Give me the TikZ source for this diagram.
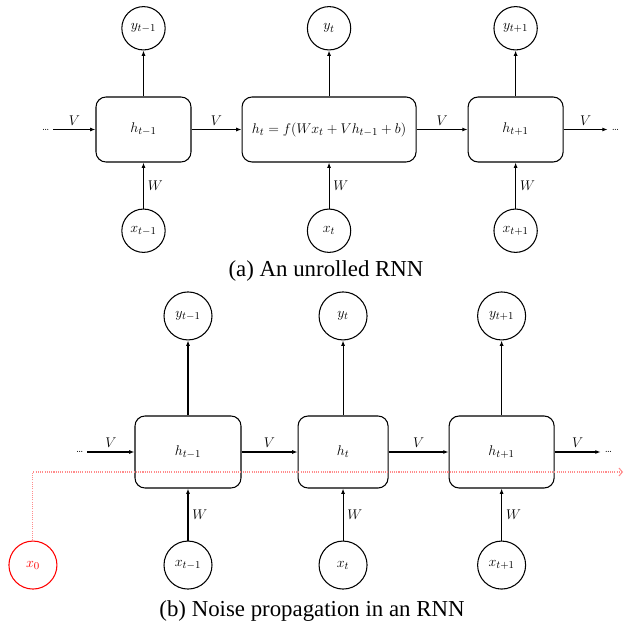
\documentclass[tikz,border=0pt]{standalone}
\usepackage{fontspec}
\usepackage{tikz}
\newfontfamily\capfont{Liberation Serif}
\usetikzlibrary{arrows.meta, positioning}
\tikzstyle{cell} = [draw, rectangle, rounded corners=3mm, line width=0.9pt]
\tikzstyle{unit} = [draw, circle, line width=0.9pt, inner sep=0pt]
\tikzstyle{dots} = [font=\fontsize{9}{10}\selectfont]
\tikzstyle{weight} = [font=\fontsize{12}{14}\selectfont]
\tikzstyle{link} = [-{Latex[length=1.6mm, width=1.2mm]}, line width=0.9pt]
\tikzstyle{noise} = [densely dotted, red!45, line width=0.9pt, -{Straight Barb[length=1mm, width=2.4mm]}]
\tikzstyle{caption} = [font=\capfont\fontsize{19.5}{22}\selectfont, anchor=base]

\begin{document}
\begin{tikzpicture}[x=0.3mm, y=-0.3mm, font=\fontsize{12.5}{15}\selectfont]
    \useasboundingbox (0,0) rectangle (625,631);

    % (a) An unrolled RNN.
    \node (ha1) [cell, minimum width=28.5mm, minimum height=19.5mm] at (143.5,129.5) {$h_{t-1}$};
    \node (ha2) [cell, minimum width=52.2mm, minimum height=19.5mm, right=15mm of ha1] {$h_t = f(Wx_t + Vh_{t-1} + b)$};
    \node (ha3) [cell, minimum width=28.5mm, minimum height=19.5mm, right=15.3mm of ha2] {$h_{t+1}$};
    \node (ya1) [unit, minimum size=13mm, above=13.8mm of ha1] {$y_{t-1}$};
    \node (ya2) [unit, minimum size=13mm, above=13.8mm of ha2] {$y_t$};
    \node (ya3) [unit, minimum size=13mm, above=13.8mm of ha3] {$y_{t+1}$};
    \node (xa1) [unit, minimum size=13mm, below=13.8mm of ha1] {$x_{t-1}$};
    \node (xa2) [unit, minimum size=13mm, below=13.8mm of ha2] {$x_t$};
    \node (xa3) [unit, minimum size=13mm, below=13.8mm of ha3] {$x_{t+1}$};
    \node (ina) [dots, left=12.6mm of ha1] {\ldots};
    \node (outa) [dots, right=13.2mm of ha3] {\ldots};
    \node (capa) [caption] at (326,277) {(a) An unrolled RNN};

    % Arrows.
    \draw [link] (ina) -- node [weight, above] {$V$} (ha1);
    \draw [link] (ha1) -- node [weight, above] {$V$} (ha2);
    \draw [link] (ha2) -- node [weight, above] {$V$} (ha3);
    \draw [link] (ha3) -- node [weight, above] {$V$} (outa);
    \draw [link] (ha1) -- (ya1);
    \draw [link] (ha2) -- (ya2);
    \draw [link] (ha3) -- (ya3);
    \draw [link] (xa1) -- node [weight, right] {$W$} (ha1);
    \draw [link] (xa2) -- node [weight, right] {$W$} (ha2);
    \draw [link] (xa3) -- node [weight, right] {$W$} (ha3);

    % (b) Noise propagation.
    \node (hb1) [cell, minimum width=31.8mm, minimum height=21.6mm] at (188,452) {$h_{t-1}$};
    \node (hb2) [cell, minimum width=27mm, minimum height=21.6mm, right=16.8mm of hb1] {$h_t$};
    \node (hb3) [cell, minimum width=31.5mm, minimum height=21.6mm, right=18mm of hb2] {$h_{t+1}$};
    \node (yb1) [unit, minimum size=14.4mm, above=22.5mm of hb1] {$y_{t-1}$};
    \node (yb2) [unit, minimum size=14.4mm, above=22.5mm of hb2] {$y_t$};
    \node (yb3) [unit, minimum size=14.4mm, above=22.5mm of hb3] {$y_{t+1}$};
    \node (xb1) [unit, minimum size=14.4mm, below=15.6mm of hb1] {$x_{t-1}$};
    \node (xb2) [unit, minimum size=14.4mm, below=15.6mm of hb2] {$x_t$};
    \node (xb3) [unit, minimum size=14.4mm, below=15.6mm of hb3] {$x_{t+1}$};
    \node (x0) [unit, red, minimum size=14.4mm, left=31.8mm of xb1] {$x_0$};
    \node (inb) [dots, left=14.1mm of hb1] {\ldots};
    \node (outb) [dots, right=13.8mm of hb3] {\ldots};
    \coordinate (noise end) at (623,472);
    \node (capb) [caption] at (312,616) {(b) Noise propagation in an RNN};

    % Arrows.
    \draw [link] (inb) -- node [weight, above] {$V$} (hb1);
    \draw [link] (hb1) -- node [weight, above] {$V$} (hb2);
    \draw [link] (hb2) -- node [weight, above] {$V$} (hb3);
    \draw [link] (hb3) -- node [weight, above] {$V$} (outb);
    \draw [link] (hb1) -- (yb1);
    \draw [link] (hb2) -- (yb2);
    \draw [link] (hb3) -- (yb3);
    \draw [link] (xb1) -- node [weight, right] {$W$} (hb1);
    \draw [link] (xb2) -- node [weight, right] {$W$} (hb2);
    \draw [link] (xb3) -- node [weight, right] {$W$} (hb3);
    \draw [noise] (x0) |- (noise end);
\end{tikzpicture}
\end{document}
